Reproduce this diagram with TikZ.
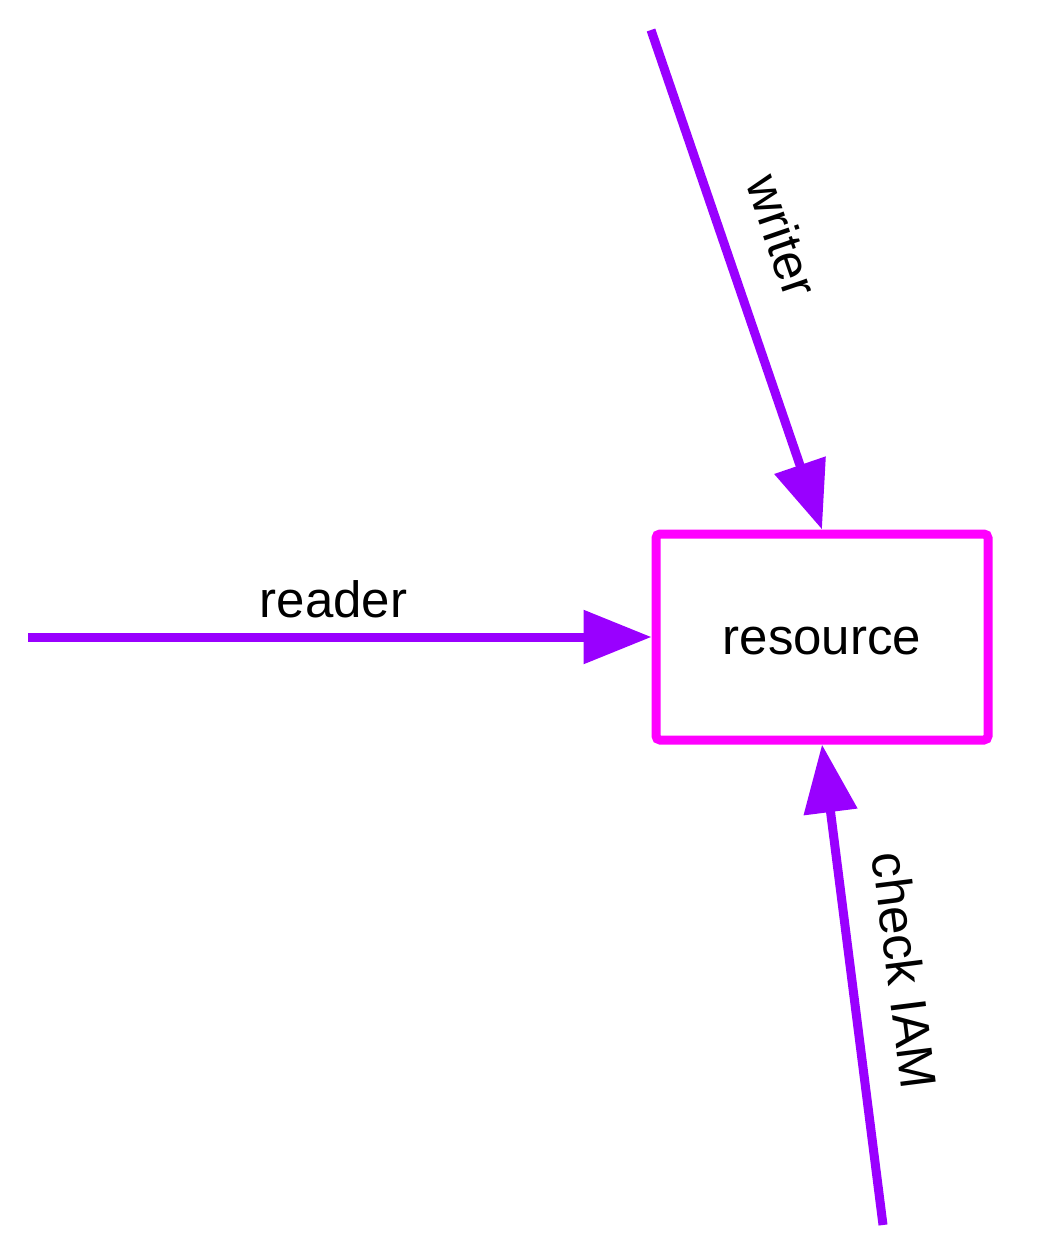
\documentclass[tikz,border=0pt]{standalone}
\usepackage{fontspec}
\setmainfont{Liberation Sans}
\usetikzlibrary{arrows.meta}
\definecolor{arrowpurple}{HTML}{9900FF}
\definecolor{boxmagenta}{HTML}{FF00FF}
\begin{document}
\begin{tikzpicture}[x=0.5pt,y=-0.5pt,
  every node/.style={font=\fontsize{25.5}{30}\selectfont},
  conn/.style={draw=arrowpurple,line width=4.5pt,-{Triangle[length=34pt,width=26pt]},fill=arrowpurple},
  resbox/.style={draw=boxmagenta,line width=4.5pt,rounded corners=2pt,minimum width=166pt,minimum height=103pt,inner sep=0pt}]
\useasboundingbox (0,0) rectangle (1052,1242);
\node[resbox] (res) at (822,637) {};
\node (restxt) at (822,641) {resource};
\coordinate (rd) at (28,637);
\coordinate (wr) at (651,30);
\coordinate (ck) at (883,1225);
\draw[conn] (rd) -- node[pos=0.49,above=4pt,fill=none] {reader} (res.west);
\draw[conn] (wr) -- node[pos=0.45,sloped,above=14pt,fill=none] {writer} (res.north);
\draw[conn] (ck) -- node[pos=0.515,sloped,above=12pt,fill=none] {check IAM} (res.south);
\end{tikzpicture}
\end{document}
